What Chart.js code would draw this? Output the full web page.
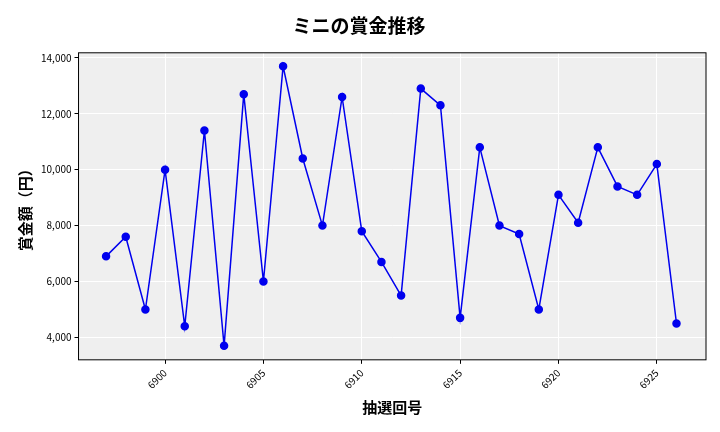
<!DOCTYPE html>
<html>
<head>
<meta charset="utf-8">
<script src="https://cdn.jsdelivr.net/npm/chart.js@4"></script>
<style>
  body { margin: 0; background: #fff; }
  #wrap { width: 720px; height: 432px; }
</style>
</head>
<body>
<div id="wrap"><canvas id="chart"></canvas></div>
<script>
// 抽選回 and 賞金額
const draws = [6897, 6898, 6899, 6900, 6901, 6902, 6903, 6904, 6905, 6906,
  6907, 6908, 6909, 6910, 6911, 6912, 6913, 6914, 6915, 6916,
  6917, 6918, 6919, 6920, 6921, 6922, 6923, 6924, 6925, 6926];
const prizes = [6900, 7600, 5000, 10000, 4400, 11400, 3700, 12700, 6000, 13700,
  10400, 8000, 12600, 7800, 6700, 5500, 12900, 12300, 4700, 10800,
  8000, 7700, 5000, 9100, 8100, 10800, 9400, 9100, 10200, 4500];
const xTicks = [6900, 6905, 6910, 6915, 6920, 6925];
const yTicks = [4000, 6000, 8000, 10000, 12000, 14000];

const font = "'Noto Sans CJK JP', 'Noto Sans', sans-serif";

// grey plot area behind the grid
const plotBg = {
  id: "plotBg",
  beforeDraw(chart) {
    const { ctx, chartArea: a } = chart;
    ctx.save();
    ctx.fillStyle = "#efefef";
    ctx.fillRect(a.left, a.top, a.right - a.left, a.bottom - a.top);
    ctx.restore();
  },
  afterDraw(chart) {
    const { ctx, chartArea: a } = chart;
    ctx.save();
    ctx.strokeStyle = "#000";
    ctx.lineWidth = 1;
    ctx.strokeRect(a.left, a.top, a.right - a.left, a.bottom - a.top);
    ctx.restore();
  }
};

new Chart(document.getElementById("chart").getContext("2d"), {
  type: "line",
  data: {
    datasets: [{
      data: draws.map((d, i) => ({ x: d, y: prizes[i] })),
      borderColor: "#0000ee",
      backgroundColor: "#0000ee",
      borderWidth: 1.5,
      pointRadius: 3.5,
      tension: 0
    }]
  },
  options: {
    responsive: true,
    maintainAspectRatio: false,
    animation: false,
    layout: { padding: { left: 12, right: 14, top: 8, bottom: 12 } },
    plugins: {
      legend: { display: false },
      title: {
        display: true,
        text: "ミニの賞金推移",
        font: { family: font, size: 19, weight: "bold" },
        color: "#000",
        padding: { top: 6, bottom: 16 }
      }
    },
    scales: {
      x: {
        type: "linear",
        min: 6895.6,
        max: 6927.5,
        grid: { color: "#fff", tickColor: "#000", tickLength: 4 },
        border: { display: false },
        afterBuildTicks(axis) {
          axis.ticks = xTicks.map(v => ({ value: v }));
        },
        ticks: {
          callback: v => String(v),
          maxRotation: 45,
          minRotation: 45,
          color: "#000",
          font: { family: font, size: 10 }
        },
        title: {
          display: true,
          text: "抽選回号",
          color: "#000",
          font: { family: font, size: 15, weight: "bold" }
        }
      },
      y: {
        min: 3200,
        max: 14180,
        grid: { color: "#fff", tickColor: "#000", tickLength: 4 },
        border: { display: false },
        afterBuildTicks(axis) {
          axis.ticks = yTicks.map(v => ({ value: v }));
        },
        ticks: {
          callback: v => v.toLocaleString("en-US"),
          color: "#000",
          font: { family: font, size: 10 }
        },
        title: {
          display: true,
          text: "賞金額（円）",
          color: "#000",
          font: { family: font, size: 15, weight: "bold" }
        }
      }
    }
  },
  plugins: [plotBg]
});
</script>
</body>
</html>
